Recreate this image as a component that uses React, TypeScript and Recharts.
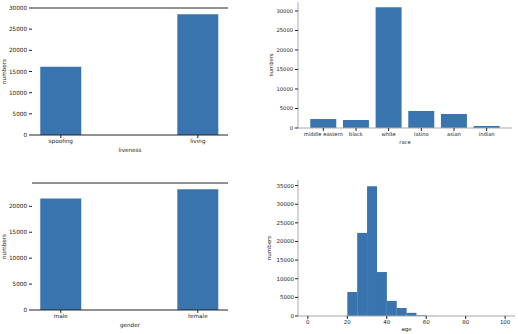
import React from 'react';
import { BarChart, Bar, XAxis, YAxis, ReferenceLine } from 'recharts';

// liveness
const livenessCats = ['spoofing', 'living'];
const livenessCounts = [16100, 28500];

// race
const raceCats = ['middle eastern', 'black', 'white', 'latino', 'asian', 'indian'];
const raceCounts = [2300, 2050, 30950, 4360, 3590, 510];

// gender
const genderCats = ['male', 'female'];
const genderCounts = [21500, 23300];

// age histogram (bins of 5)
const ageBinStart = [0, 5, 10, 15, 20, 25, 30, 35, 40, 45, 50, 55, 60, 65, 70, 75, 80, 85, 90, 95];
const ageCounts = [0, 0, 0, 0, 6450, 22300, 34800, 11800, 4050, 2150, 850, 200, 40, 0, 0, 0, 0, 0, 0, 0];

const BLUE = '#3a74ae';
const INK = '#222';
const FRAME = '#a8a8a8';

const livenessData = livenessCats.map((name, i) => ({ pos: i, name, count: livenessCounts[i] }));
const raceData = raceCats.map((name, i) => ({ name, count: raceCounts[i] }));
const genderData = genderCats.map((name, i) => ({ pos: i, name, count: genderCounts[i] }));
const ageData = ageBinStart.map((bin, i) => ({ bin, count: ageCounts[i] }));

// rotated y-axis title, placed from the axis box
const yTitle = (dx: number, size: number) => (props: any) => {
  const vb = props.viewBox;
  const x = vb.x + dx;
  const y = vb.y + vb.height / 2;
  return (
    <text x={x} y={y} transform={`rotate(-90 ${x} ${y})`} textAnchor="middle" dominantBaseline="central" fontSize={size} fill={INK}>
      numbers
    </text>
  );
};

const tick = (size: number) => ({ fontSize: size, fill: INK });

export default function App() {
  return (
    <div style={{ position: 'absolute', left: 0, top: 0, width: 518, height: 334, background: '#fff', fontFamily: '"DejaVu Sans", sans-serif' }}>
      {/* liveness */}
      <div style={{ position: 'absolute', left: 0, top: 0 }}>
        <BarChart width={260} height={160} data={livenessData} margin={{ top: 8, right: 32, bottom: 0, left: 0 }}>
          <XAxis
            dataKey="pos"
            type="number"
            domain={[-0.21, 1.22]}
            ticks={[0, 1]}
            tickFormatter={(v: number) => livenessCats[v]}
            height={25}
            tick={tick(5.7)}
            tickSize={3}
            tickMargin={1}
            axisLine={{ stroke: '#222' }}
            tickLine={{ stroke: INK }}
            label={{ value: 'liveness', position: 'insideTop', offset: 13, fontSize: 5.7, fill: INK }}
          />
          <YAxis
            width={32}
            domain={[0, 30000]}
            ticks={[0, 5000, 10000, 15000, 20000, 25000, 30000]}
            axisLine={false}
            tickSize={3}
            tickMargin={2}
            tick={tick(5.7)}
            tickLine={{ stroke: INK }}
            label={yTitle(4, 5.7)}
          />
          <YAxis yAxisId="r" orientation="right" width={0} tick={false} tickLine={false} axisLine={{ stroke: '#e4e4e4' }} />
          <ReferenceLine y={30000} stroke="#222" />
          <Bar dataKey="count" fill={BLUE} barSize={41} isAnimationActive={false} />
        </BarChart>
      </div>

      {/* race */}
      <div style={{ position: 'absolute', left: 258, top: 0 }}>
        <BarChart width={260} height={160} data={raceData} margin={{ top: 2, right: 6, bottom: 0, left: 0 }} barCategoryGap="10%">
          <XAxis
            dataKey="name"
            height={32}
            padding={{ left: 9, right: 9 }}
            interval={0}
            tick={tick(5.2)}
            tickSize={3}
            tickMargin={1}
            axisLine={{ stroke: FRAME }}
            tickLine={{ stroke: INK }}
            label={{ value: 'race', position: 'insideTop', offset: 12, fontSize: 5.2, fill: INK }}
          />
          <XAxis xAxisId="top" orientation="top" height={0} tick={false} tickLine={false} axisLine={{ stroke: FRAME }} />
          <YAxis
            width={40}
            domain={[0, 32300]}
            ticks={[0, 5000, 10000, 15000, 20000, 25000, 30000]}
            tickSize={3}
            tickMargin={2}
            tick={tick(5.2)}
            axisLine={{ stroke: FRAME }}
            tickLine={{ stroke: INK }}
            label={yTitle(12.5, 5.2)}
          />
          <YAxis yAxisId="r" orientation="right" width={0} tick={false} tickLine={false} axisLine={{ stroke: FRAME }} />
          <Bar dataKey="count" fill={BLUE} isAnimationActive={false} />
        </BarChart>
      </div>

      {/* gender */}
      <div style={{ position: 'absolute', left: 0, top: 167 }}>
        <BarChart width={260} height={167} data={genderData} margin={{ top: 16, right: 32, bottom: 0, left: 0 }}>
          <XAxis
            dataKey="pos"
            type="number"
            domain={[-0.21, 1.22]}
            ticks={[0, 1]}
            tickFormatter={(v: number) => genderCats[v]}
            height={24}
            tick={tick(5.7)}
            tickSize={3}
            tickMargin={1}
            axisLine={{ stroke: '#222' }}
            tickLine={{ stroke: INK }}
            label={{ value: 'gender', position: 'insideTop', offset: 12.5, fontSize: 5.7, fill: INK }}
          />
          <YAxis
            width={32}
            domain={[0, 24500]}
            ticks={[0, 5000, 10000, 15000, 20000]}
            axisLine={false}
            tickSize={3}
            tickMargin={2}
            tick={tick(5.7)}
            tickLine={{ stroke: INK }}
            label={yTitle(4, 5.7)}
          />
          <YAxis yAxisId="r" orientation="right" width={0} tick={false} tickLine={false} axisLine={{ stroke: '#e4e4e4' }} />
          <ReferenceLine y={24500} stroke="#222" />
          <Bar dataKey="count" fill={BLUE} barSize={41} isAnimationActive={false} />
        </BarChart>
      </div>

      {/* age */}
      <div style={{ position: 'absolute', left: 258, top: 167 }}>
        <BarChart width={260} height={167} data={ageData} margin={{ top: 13, right: 3, bottom: 0, left: 0 }} barCategoryGap={0}>
          <XAxis xAxisId="bins" dataKey="bin" hide padding={{ left: 217 / 22, right: 217 / 22 }} />
          <XAxis
            xAxisId="age"
            type="number"
            dataKey="bin"
            domain={[-5, 105]}
            allowDataOverflow
            ticks={[0, 20, 40, 60, 80, 100]}
            height={18}
            tick={tick(5.5)}
            tickSize={3}
            tickMargin={1}
            axisLine={{ stroke: FRAME }}
            tickLine={{ stroke: INK }}
            label={{ value: 'age', position: 'insideTop', offset: 11.5, fontSize: 5.5, fill: INK }}
          />
          <XAxis xAxisId="top" orientation="top" height={0} tick={false} tickLine={false} axisLine={{ stroke: FRAME }} />
          <YAxis
            width={40}
            domain={[0, 36500]}
            ticks={[0, 5000, 10000, 15000, 20000, 25000, 30000, 35000]}
            tickSize={3}
            tickMargin={1}
            tick={tick(5.5)}
            axisLine={{ stroke: FRAME }}
            tickLine={{ stroke: INK }}
            label={yTitle(11, 5.5)}
          />
          <YAxis yAxisId="r" orientation="right" width={0} tick={false} tickLine={false} axisLine={{ stroke: FRAME }} />
          <Bar xAxisId="bins" dataKey="count" fill={BLUE} isAnimationActive={false} />
        </BarChart>
      </div>
    </div>
  );
}
